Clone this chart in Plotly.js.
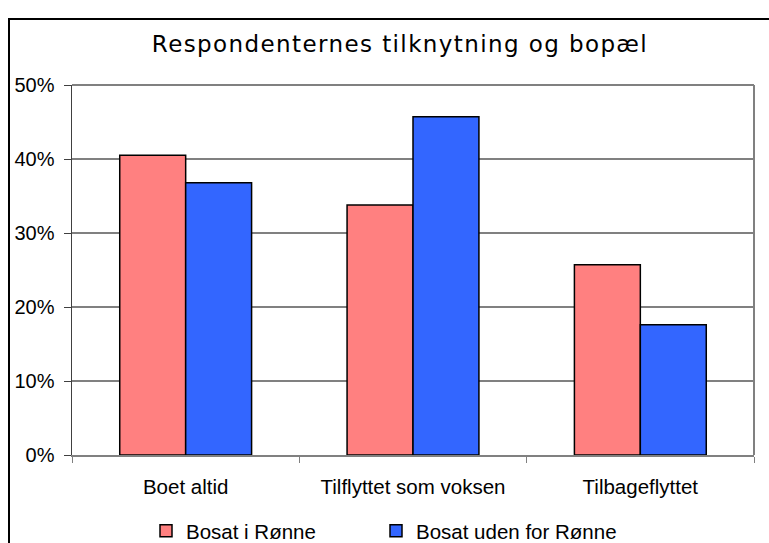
<!DOCTYPE html>
<html><head><meta charset="utf-8">
<script src="https://cdn.plot.ly/plotly-3.0.1.min.js"></script>
<style>
html,body{margin:0;padding:0;background:#fff;overflow:hidden;}
#frame{position:absolute;left:8px;top:18px;width:800px;height:600px;border:2px solid #000;box-sizing:border-box;}
#chart{position:absolute;left:0;top:0;width:769px;height:543px;}
.gtitle{letter-spacing:1.4px;}
</style></head>
<body>
<div id="frame"></div>
<div id="chart"></div>
<script>
const categories = ["Boet altid", "Tilflyttet som voksen", "Tilbageflyttet"];
const seriesNames = ["Bosat i Rønne", "Bosat uden for Rønne"];
const bosatIRonne = [0.405, 0.338, 0.257];
const bosatUdenFor = [0.368, 0.457, 0.176];
const yTicks = [0, 0.1, 0.2, 0.3, 0.4, 0.5];
const yTickLabels = ["0%", "10%", "20%", "30%", "40%", "50%"];

const traces = [
  {type:"bar", name:seriesNames[0], x:categories, y:bosatIRonne, legend:"legend",
   marker:{color:"#FF8080", line:{color:"#000", width:1.5}}},
  {type:"bar", name:seriesNames[1], x:categories, y:bosatUdenFor, legend:"legend2",
   marker:{color:"#3366FF", line:{color:"#000", width:1.5}}}
];

const legendFont = {family:"Liberation Sans, Arial", size:20.5, color:"#000"};
const layout = {
  width:769, height:543,
  paper_bgcolor:"rgba(0,0,0,0)", plot_bgcolor:"#fff",
  margin:{l:72, r:15, t:85, b:88, autoexpand:false},
  barmode:"group", bargap:0.42, bargroupgap:0,
  title:{text:"Respondenternes tilknytning og bopæl", x:400/769, xanchor:"center",
         y:1-44/543, yanchor:"middle", yref:"container",
         font:{family:"DejaVu Sans", size:23, color:"#000"}},
  font:{family:"Liberation Sans, Arial", color:"#000"},
  xaxis:{type:"category", tickson:"boundaries", ticks:"outside", ticklen:6,
         tickcolor:"#808080", showline:true, linecolor:"#808080", linewidth:2,
         mirror:false, showgrid:false, ticklabelstandoff:12, automargin:false,
         tickfont:{family:"Liberation Sans, Arial", size:20.5, color:"#000"}},
  yaxis:{range:[0,0.5], tickvals:yTicks, ticktext:yTickLabels, ticks:"outside",
         ticklen:7, tickcolor:"#404040", showline:true, linecolor:"#404040", linewidth:1.5,
         showgrid:true, gridcolor:"#808080", gridwidth:1.5, zeroline:false,
         ticklabelstandoff:5, automargin:false,
         tickfont:{family:"Liberation Sans, Arial", size:20, color:"#000"}},
  shapes:[
    {type:"line", xref:"paper", yref:"paper", x0:0, x1:1, y0:1, y1:1, line:{color:"#808080", width:2}},
    {type:"line", xref:"paper", yref:"paper", x0:1, x1:1, y0:0, y1:1, line:{color:"#808080", width:2}}
  ],
  legend:{orientation:"h", x:(146-72)/682, xanchor:"left", y:-0.205, yanchor:"middle",
          font:legendFont, itemwidth:30, bgcolor:"rgba(0,0,0,0)"},
  legend2:{orientation:"h", x:(376-72)/682, xanchor:"left", y:-0.205, yanchor:"middle",
          font:legendFont, itemwidth:30, bgcolor:"rgba(0,0,0,0)"},
  showlegend:true
};

Plotly.newPlot("chart", traces, layout, {displayModeBar:false, staticPlot:true});
</script>
</body></html>
